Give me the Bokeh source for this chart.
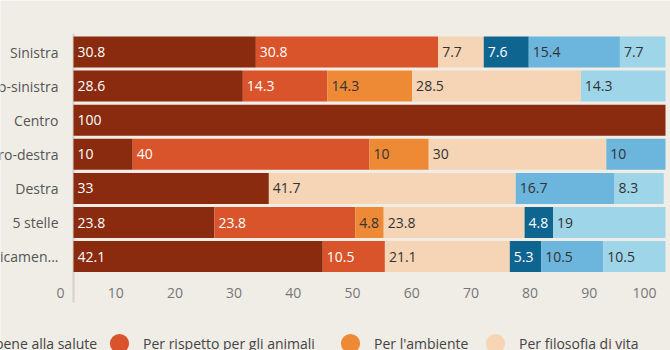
from bokeh.plotting import figure
from bokeh.models import Range1d, ColumnDataSource, Legend, LegendItem
from bokeh.core.properties import value
from bokeh.embed import file_html
from bokeh.resources import INLINE

categories = ["Sinistra", "Centro-sinistra", "Centro", "Centro-destra", "Destra", "5 stelle", "Politicamen..."]
series = ["Perché fa bene alla salute", "Per rispetto per gli animali", "Per l'ambiente",
          "Per filosofia di vita", "Per motivi etici", "Per motivi religiosi", "Altro"]
colors = ["#8a2b0f", "#d9532b", "#ee8a36", "#f5d5b5", "#0e6590", "#6cb5dc", "#9fd5e9"]
text_colors = ["#ffffff", "#ffffff", "#333333", "#333333", "#ffffff", "#333333", "#333333"]

salute = [30.8, 28.6, 100, 10, 33, 23.8, 42.1]
animali = [30.8, 14.3, 0, 40, 0, 23.8, 10.5]
ambiente = [0, 14.3, 0, 10, 0, 4.8, 0]
filosofia = [7.7, 28.5, 0, 30, 41.7, 23.8, 21.1]
etici = [7.6, 0, 0, 0, 0, 4.8, 5.3]
religiosi = [15.4, 0, 0, 10, 16.7, 0, 10.5]
altro = [7.7, 14.3, 0, 0, 8.3, 19, 10.5]
values = [salute, animali, ambiente, filosofia, etici, religiosi, altro]

ticks = [0, 10, 20, 30, 40, 50, 60, 70, 80, 90, 100]

FONT = "Open Sans"
BG = "#f0ede6"
W, H = 670, 350
PLOT_L, PLOT_R = 73, 665          # pixel span of 0..100
ROW0, PITCH = 51.5, 34.1          # first row centre, row pitch (px)

n = len(categories)
ypos = [-i for i in range(n)]

ppu = (PLOT_R - PLOT_L) / 100.0
x_range = Range1d(-PLOT_L / ppu, 100 + (W - PLOT_R) / ppu)
y_top = ROW0 / PITCH
y_range = Range1d(-(H - ROW0) / PITCH, y_top)

p = figure(width=W, height=H, output_backend="svg", toolbar_location=None,
           x_axis_location=None, y_axis_location=None,
           x_range=x_range, y_range=y_range,
           min_border_left=0, min_border_right=0, min_border_top=0, min_border_bottom=0)
p.background_fill_color = BG
p.border_fill_color = BG
p.outline_line_color = None
p.xgrid.visible = False
p.ygrid.visible = False

axis_top = 0.54
axis_bottom = -(n - 1) - 1.35
p.segment(x0=[0], y0=[axis_top], x1=[0], y1=[axis_bottom], line_color="#d6d2c9", line_width=2)

left = [0.0] * n
lab_x, lab_y, lab_t, lab_c = [], [], [], []
for vals, col, tcol in zip(values, colors, text_colors):
    right = [l + v for l, v in zip(left, vals)]
    src = ColumnDataSource(dict(y=ypos, left=left, right=right))
    p.hbar(y="y", left="left", right="right", height=0.91, source=src,
           fill_color=col, line_color=None)
    for i, v in enumerate(vals):
        if v > 0:
            lab_x.append(left[i]); lab_y.append(ypos[i])
            lab_t.append(f"{v:g}"); lab_c.append(tcol)
    left = right

p.text(x=lab_x, y=lab_y, text=lab_t, text_color=lab_c, x_offset=4,
       text_baseline="middle", text_align="left", text_font=value(FONT),
       text_font_size="14px")

# x tick labels
p.text(x=ticks, y=[axis_bottom] * len(ticks), text=[str(t) for t in ticks],
       x_offset=-9, y_offset=-10, text_align="right", text_baseline="middle",
       text_font=value(FONT), text_font_size="14px", text_color="#777777")

# category labels
p.text(x=[0] * n, y=ypos, text=categories, x_offset=-15,
       text_align="right", text_baseline="middle",
       text_font=value(FONT), text_font_size="14px", text_color="#555555")

# legend
legend_x = [-118, 95, 326, 471, 680, 880, 1080]
for name, col, lx in zip(series, colors, legend_x):
    r = p.scatter(x=[float("nan")], y=[float("nan")], marker="circle", size=19,
                  fill_color=col, line_color=None)
    lg = Legend(items=[LegendItem(label=name, renderers=[r])], location=(lx, -17),
                orientation="horizontal", padding=0, margin=0, spacing=0,
                glyph_width=48, glyph_height=48, label_height=48, label_standoff=-1,
                label_text_font=FONT, label_text_font_size="14px", label_text_color="#444444",
                label_text_baseline="middle",
                background_fill_alpha=0, border_line_alpha=0)
    p.add_layout(lg, "center")

open("out.html", "w").write(file_html(p, INLINE))
